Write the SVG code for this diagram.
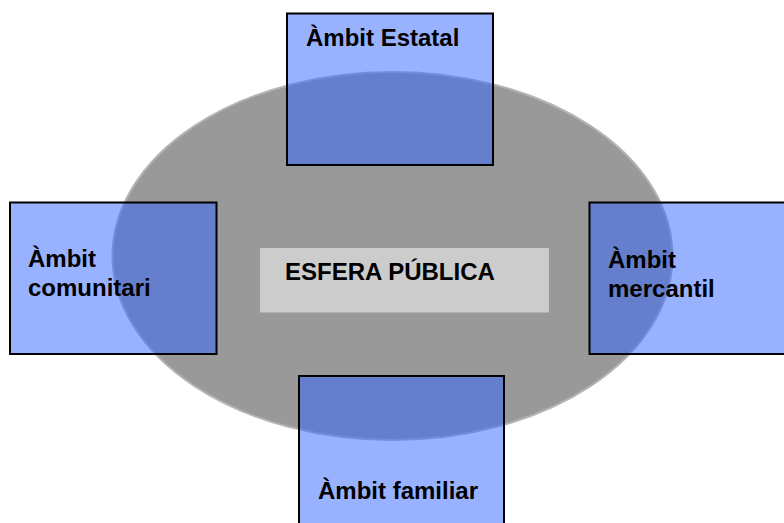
<svg xmlns="http://www.w3.org/2000/svg" width="784" height="523" viewBox="0 0 784 523">
  <style>
    .box { fill: #3366FF; fill-opacity: 0.5; stroke: #000000; stroke-width: 2; }
    .lbl { font-family: "Liberation Sans", Arial, sans-serif; font-weight: bold; font-size: 24px; fill: #000000; }
  </style>
  <rect width="784" height="523" fill="#ffffff"/>
  <g id="esfera">
    <ellipse cx="392.5" cy="256" rx="280" ry="184" fill="#999999" stroke="#b4b4b4" stroke-width="2"/>
    <rect x="260" y="248" width="289" height="64.5" fill="#cccccc"/>
    <text class="lbl" x="285" y="280">ESFERA PÚBLICA</text>
  </g>
  <g id="connectors"></g>
  <g id="estatal">
    <rect class="box" x="287" y="13.5" width="206" height="151.5"/>
    <text class="lbl" x="306" y="46">Àmbit Estatal</text>
  </g>
  <g id="comunitari">
    <rect class="box" x="10" y="202.5" width="206.5" height="151.5"/>
    <text class="lbl" x="28" y="267">Àmbit</text>
    <text class="lbl" x="28" y="296">comunitari</text>
  </g>
  <g id="mercantil">
    <rect class="box" x="589.5" y="202.5" width="220" height="151.5"/>
    <text class="lbl" x="608" y="268">Àmbit</text>
    <text class="lbl" x="608" y="297">mercantil</text>
  </g>
  <g id="familiar">
    <rect class="box" x="299" y="376" width="205" height="160"/>
    <text class="lbl" x="318" y="499">Àmbit familiar</text>
  </g>
</svg>
